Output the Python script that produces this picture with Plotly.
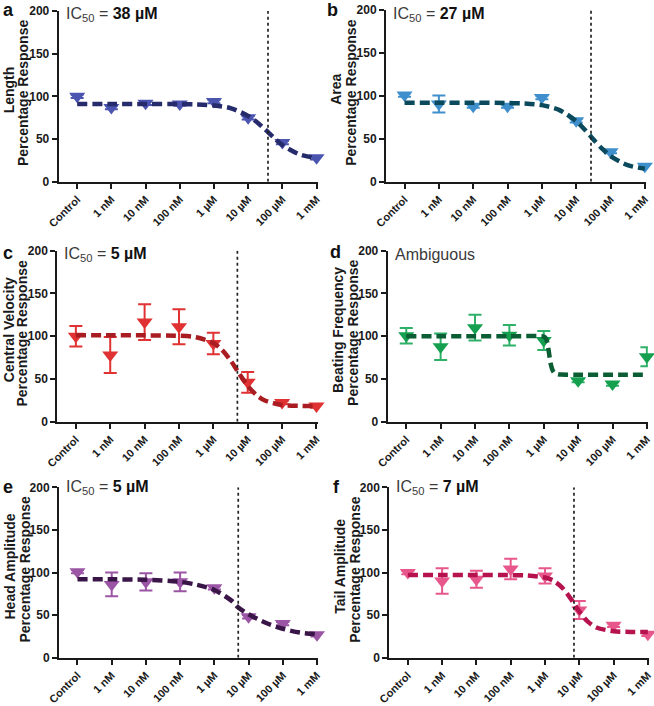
import math
import plotly.graph_objects as go

# ---------------- data ----------------
categories = ["Control", "1 nM", "10 nM", "100 nM", "1 µM", "10 µM", "100 µM", "1 mM"]
cat_pos = [0, 1, 2, 3, 4, 5, 6, 7]

panel_letters = ["a", "b", "c", "d", "e", "f"]
measure_names = ["Length", "Area", "Central Velocity", "Beating Frequency",
                 "Head Amplitude", "Tail Amplitude"]
ic50_uM = [38, 27, 5, None, 5, 7]

length_vals = [100, 87, 92, 91, 94, 75, 46, 28]
length_err = [2, 2, 2, 2, 2, 2, 2, 2]
area_vals = [101, 90.5, 88, 88, 98, 71, 35, 18]
area_err = [2, 10, 2, 2, 2, 2, 2, 2]
velocity_vals = [100, 78, 116.5, 111, 91.5, 46, 22.5, 18.3]
velocity_err = [12, 21, 21, 20.5, 12.5, 12, 2, 2]
beat_vals = [100.5, 87.7, 110, 101, 95, 48, 44, 76]
beat_err = [9, 15.6, 15, 12, 11, 2, 2, 11]
head_vals = [101, 86, 89, 89, 82, 48, 40, 27]
head_err = [2, 14, 10, 11, 2, 2, 2, 2]
tail_vals = [100, 90, 92, 104, 96, 56, 38, 27.5]
tail_err = [2, 15, 10, 12, 9, 10.5, 2, 2]

# fitted curves
length_fit_x = [0, 1, 2, 3, 3.5, 4, 4.5, 5, 5.25, 5.5, 5.75, 6, 6.5, 7]
length_fit_y = [91, 91, 91, 91, 90.5, 89.3, 86, 77, 70, 61, 51.6, 43, 32, 27.4]
area_fit_x = [0, 1, 2, 3, 3.5, 4, 4.5, 5, 5.25, 5.5, 5.75, 6, 6.5, 7]
area_fit_y = [92, 92, 92, 91.7, 91.1, 89.2, 83.7, 70.6, 60.6, 49.3, 38.6, 29.8, 19.2, 15.1]
velocity_fit_x = [0, 1, 2, 3, 3.5, 4, 4.25, 4.5, 4.75, 5, 5.25, 5.5, 6, 6.5, 7]
velocity_fit_y = [101, 101, 101, 100.5, 98.8, 92, 84, 71.6, 56.4, 41.9, 31.3, 24.8, 19.6, 18.5, 18.2]
beat_fit_x = [0, 1, 2, 3, 3.9, 4, 4.05, 4.1, 4.15, 4.2, 4.25, 4.3, 4.4, 4.5, 5, 6, 7]
beat_fit_y = [100, 100, 100, 100, 100, 99.5, 98, 93, 81, 68, 61, 57.5, 55.7, 55.2, 55, 55, 55]
head_fit_x = [0, 1, 2, 3, 3.5, 4, 4.5, 4.7, 5, 5.5, 6, 6.5, 7]
head_fit_y = [92, 92, 91.5, 89, 85.5, 79.5, 67, 59, 51, 41, 34, 29.5, 27.5]
tail_fit_x = [0, 1, 2, 3, 3.5, 4, 4.25, 4.5, 4.75, 5, 5.25, 5.5, 6, 6.5, 7]
tail_fit_y = [97, 97, 97, 96.9, 96.5, 94.1, 90.3, 82.3, 69.3, 54.2, 42.3, 35.5, 31, 30.3, 30.1]

y_ticks = [0, 50, 100, 150, 200]

# ---------------- styling ----------------
W, H = 654, 706
FONT = "Liberation Sans, Arial, sans-serif"
marker_colors = ["#4b55b0", "#3f8fcd", "#e03232", "#15a050", "#9b55a5", "#e8578b"]
err_colors = ["#4b55b0", "#3f8fcd", "#e03232", "#2fb068", "#9b55a5", "#e8578b"]
curve_colors = ["#262b6b", "#0b4a5c", "#a81c22", "#0b5e33", "#3a1548", "#b5124e"]

# panel boxes in window px: left, right, top, bottom
boxes = [
    (58.7, 317.6, 11.0, 181.7),
    (386.0, 645.9, 10.0, 181.7),
    (57.3, 317.5, 250.7, 421.7),
    (387.7, 647.9, 250.7, 421.7),
    (59.0, 318.0, 487.3, 657.7),
    (389.3, 648.9, 487.3, 657.7),
]
letter_pos = [(8, 10), (332, 10), (8, 253), (335, 252), (8, 487), (336, 487)]
text_dy = [4, 4, 4, 4, 0, 0]

values = [length_vals, area_vals, velocity_vals, beat_vals, head_vals, tail_vals]
errors = [length_err, area_err, velocity_err, beat_err, head_err, tail_err]
fits_x = [length_fit_x, area_fit_x, velocity_fit_x, beat_fit_x, head_fit_x, tail_fit_x]
fits_y = [length_fit_y, area_fit_y, velocity_fit_y, beat_fit_y, head_fit_y, tail_fit_y]


def fx(px):
    return px / W


def fy(py):
    return 1 - py / H


fig = go.Figure()
annotations = []
shapes = []
layout_axes = {}

for i in range(6):
    k = "" if i == 0 else str(i + 1)
    xa, ya = "x" + k, "y" + k
    left, right, top, bottom = boxes[i]

    fig.add_trace(go.Scatter(
        x=cat_pos, y=values[i], mode="markers",
        marker=dict(symbol="triangle-down", size=14, color=marker_colors[i]),
        error_y=dict(type="data", array=errors[i], visible=True,
                     color=err_colors[i], thickness=2, width=6.5),
        xaxis=xa, yaxis=ya, showlegend=False, hoverinfo="skip", cliponaxis=False,
    ))
    fig.add_trace(go.Scatter(
        x=fits_x[i], y=fits_y[i], mode="lines",
        line=dict(color=curve_colors[i], width=4.5, dash="10px,5px", shape="spline", smoothing=0.8),
        xaxis=xa, yaxis=ya, showlegend=False, hoverinfo="skip",
    ))

    layout_axes["xaxis" + k] = dict(
        domain=[fx(left), min(1.0, fx(right))], anchor=ya, range=[-0.54, 7.03],
        tickvals=cat_pos, ticktext=categories, tickangle=-45, automargin=False,
        tickfont=dict(family=FONT, size=11, color="#1a1a1a", weight="bold"),
        showline=True, linecolor="#1a1a1a", linewidth=2,
        ticks="outside", ticklen=5, tickwidth=2, tickcolor="#1a1a1a",
        showgrid=False, zeroline=False, fixedrange=True,
    )
    layout_axes["yaxis" + k] = dict(
        domain=[fy(bottom), fy(top)], anchor=xa, range=[0, 200], automargin=False,
        tickvals=y_ticks,
        tickfont=dict(family=FONT, size=12, color="#1a1a1a", weight="bold"),
        showline=True, linecolor="#1a1a1a", linewidth=2,
        ticks="outside", ticklen=5, tickwidth=2, tickcolor="#1a1a1a",
        showgrid=False, zeroline=False, fixedrange=True,
    )

    # IC50 dotted line
    if ic50_uM[i] is not None:
        pos = 1 + (math.log10(ic50_uM[i] * 1e-6) + 9)
        shapes.append(dict(type="line", xref=xa, yref=ya, x0=pos, x1=pos, y0=0, y1=200,
                           line=dict(color="#222222", width=1.7, dash="dot")))
        label = ("IC<sub>50</sub> = <span style='color:#111'><b>%d µM</b></span>" % ic50_uM[i])
    else:
        label = "Ambiguous"

    annotations.append(dict(
        text=label, xref="paper", yref="paper", x=fx(left + 5), y=fy(top + text_dy[i]),
        xanchor="left", yanchor="middle", showarrow=False,
        font=dict(family=FONT, size=16, color="#3a3a3a"),
    ))
    # panel letter
    lx, ly = letter_pos[i]
    annotations.append(dict(
        text="<b>%s</b>" % panel_letters[i], xref="paper", yref="paper", x=fx(lx), y=fy(ly),
        xanchor="center", yanchor="middle", showarrow=False,
        font=dict(family=FONT, size=18, color="#111111"),
    ))
    # y titles (two lines)
    yc = (top + bottom) / 2 - 3
    annotations.append(dict(
        text="<b>%s</b>" % measure_names[i], xref="paper", yref="paper",
        x=fx(max(left - 50, 9)), y=fy(yc - 3), xanchor="center", yanchor="middle",
        textangle=-90, showarrow=False, font=dict(family=FONT, size=14, color="#1a1a1a"),
    ))
    annotations.append(dict(
        text="<b>Percentage Response</b>", xref="paper", yref="paper",
        x=fx(left - 35), y=fy(yc), xanchor="center", yanchor="middle",
        textangle=-90, showarrow=False, font=dict(family=FONT, size=14, color="#1a1a1a"),
    ))

fig.update_layout(
    width=W, height=H, margin=dict(l=0, r=0, t=0, b=0, autoexpand=False),
    paper_bgcolor="white", plot_bgcolor="white",
    annotations=annotations, shapes=shapes,
    font=dict(family=FONT), **layout_axes,
)

fig.write_html(
    "out.html",
    config={"displayModeBar": False, "staticPlot": True},
    post_script="document.body.style.margin='0';document.body.style.overflow='hidden';",
)
